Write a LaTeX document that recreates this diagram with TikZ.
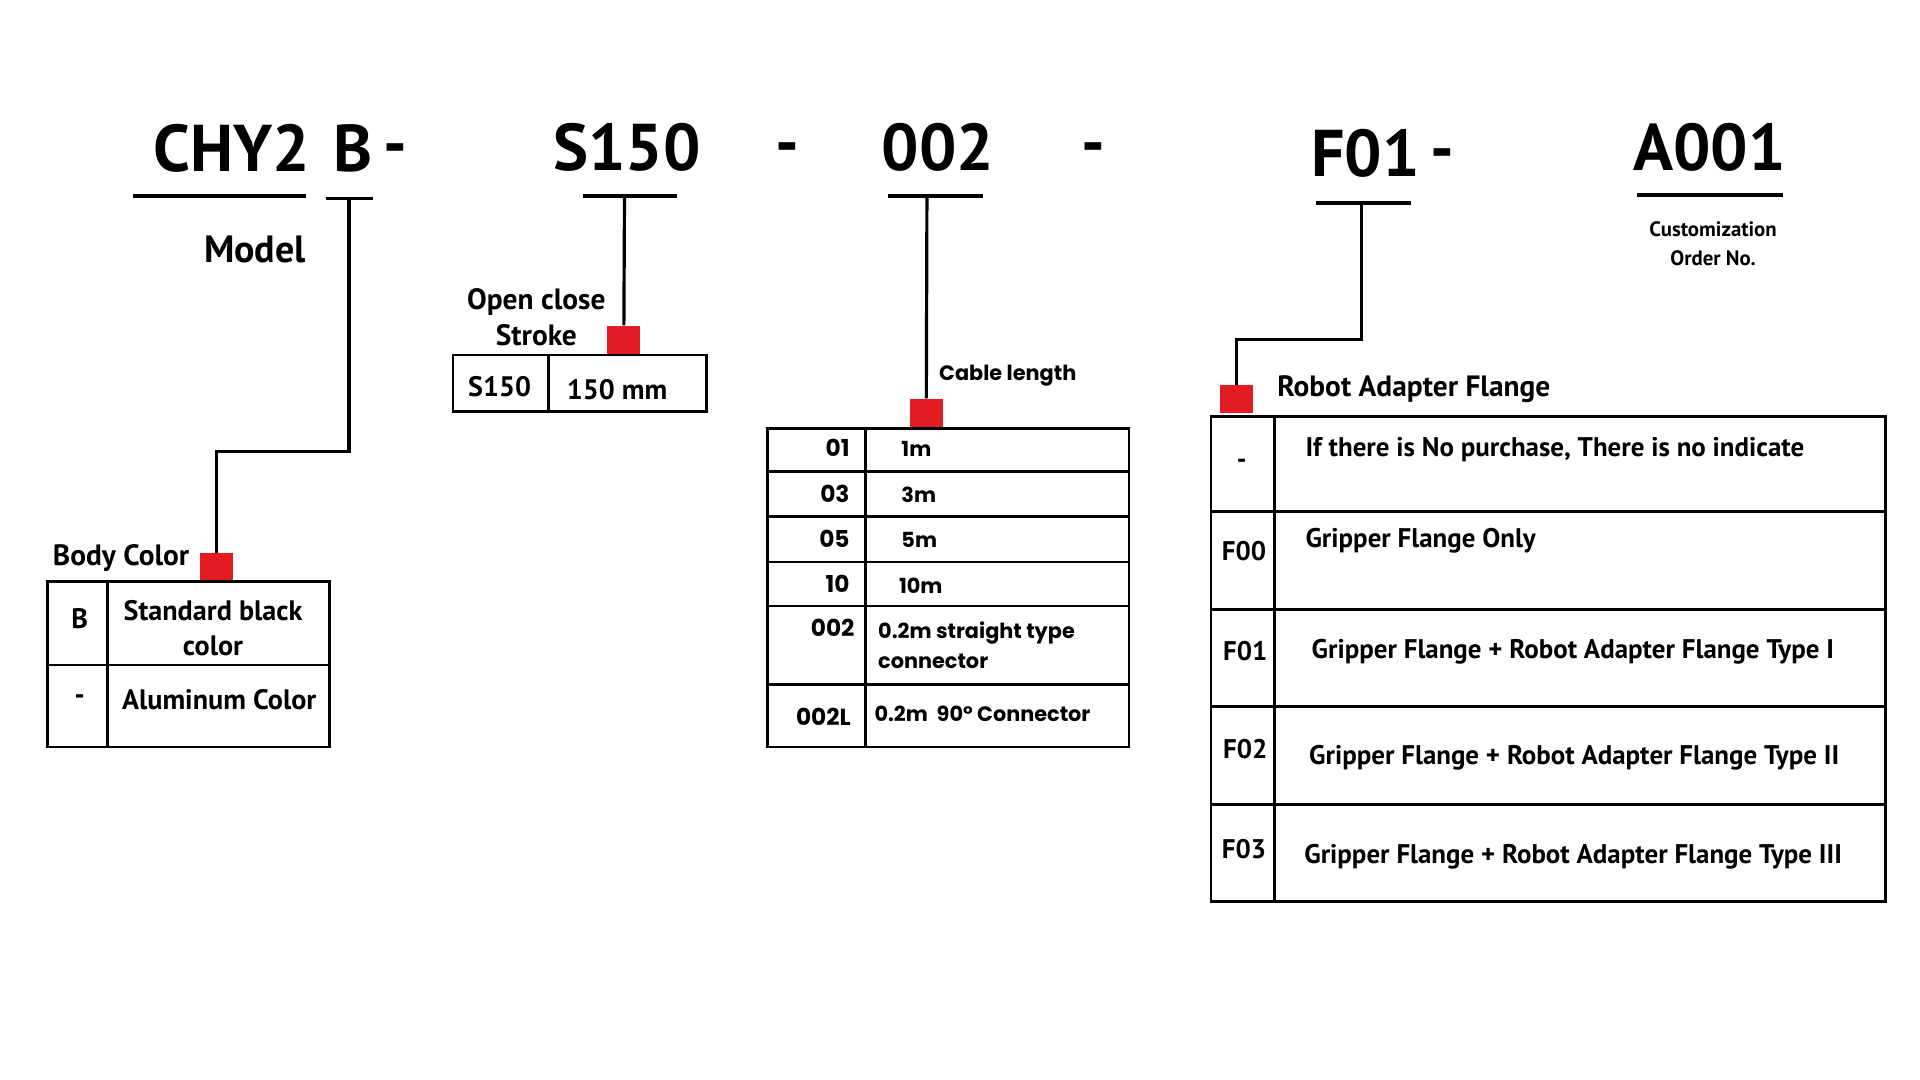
\documentclass[tikz,border=0pt]{standalone}
\usepackage{fontspec}
\setmainfont{PT Sans}
\newfontfamily\geofont{Poppins}
\usetikzlibrary{positioning}
\definecolor{markred}{HTML}{E31B23}

\begin{document}
\begin{tikzpicture}[
        x=1pt, y=-1pt,
        code/.style={font=\fontsize{54}{60}\selectfont\bfseries, inner sep=0pt},
        caption/.style={font=\fontsize{24}{29}\selectfont\bfseries, align=center, inner sep=0pt},
        cell/.style={font=\fontsize{23}{29}\selectfont\bfseries, align=center, inner sep=0pt},
        flangecell/.style={font=\fontsize{22}{28}\selectfont\bfseries, align=center, inner sep=0pt},
        cablecell/.style={font=\geofont\fontsize{17}{25}\selectfont\bfseries, align=left, inner sep=0pt},
        cablecode/.style={font=\geofont\fontsize{19}{25}\selectfont\bfseries, inner sep=0pt},
        marker/.style={fill=markred, minimum width=27pt, minimum height=23pt, inner sep=0pt},
        bar/.style={line width=3pt},
        wire/.style={line width=2.6pt},
        grid/.style={line width=2.2pt}
    ]
    \useasboundingbox (0,0) rectangle (1568,882);

    % Order code
    \node[code] (model) at (189,121) {CHY2};
    \node[code] (color) at (288,121) {B};
    \node[code] (dash1) at (323,127) {-};
    \node[code] (stroke) at (512,120) {S150};
    \node[code] (dash2) at (643,126) {-};
    \node[code] (cable) at (766,120) {002};
    \node[code] (dash3) at (893,126) {-};
    \node[code] (flange) at (1115,125) {F01};
    \node[code] (dash4) at (1178,131) {-};
    \node[code] (order) at (1396,120) {A001};

    % Underlines
    \draw[bar] (109,160) -- (250,160);
    \draw[bar] (266,162) -- (305,162);
    \draw[bar] (476,160) -- (553,160);
    \draw[bar] (725,160) -- (803,160);
    \draw[bar] (1075,166) -- (1152,166);
    \draw[bar] (1337,159) -- (1456,159);
    \coordinate (colorbar) at (285,162);
    \coordinate (strokebar) at (510,160);
    \coordinate (cablebar) at (757,160);
    \coordinate (flangebar) at (1112,166);

    % Model
    \node[font=\fontsize{31}{36}\selectfont\bfseries, anchor=east, inner sep=0pt] (modeltxt) at (250,204) {Model};

    % Body color
    \node[marker] (colormark) at (176.5,463.5) {};
    \coordinate (colorbend) at (285,369);
    \draw[wire] (colorbar) -- (colorbend) -| (colormark.north);
    \node[caption, anchor=west] (colortxt) at (43,456) {Body Color};
    \draw[grid] (39,475) rectangle (269,610);
    \draw[grid] (88,475) -- (88,610);
    \draw[grid] (39,543) -- (269,543);
    \node[cell] (colorB) at (65,505) {B};
    \node[cell] (colorBtxt) at (174,513) {Standard black\\color};
    \node[cell] (colorA) at (65,571) {-};
    \node[cell] (colorAtxt) at (179,571) {Aluminum Color};

    % Stroke
    \node[marker] (strokemark) at (509.5,277.5) {};
    \draw[wire] (strokebar) -- (strokemark.north);
    \node[caption] (stroketxt) at (438,259) {Open close\\Stroke};
    \draw[grid] (370,290) rectangle (577,336);
    \draw[grid] (448,290) -- (448,336);
    \node[cell] (strokeS) at (408,316) {S150};
    \node[cell] (strokeStxt) at (504,318) {150 mm};

    % Cable length
    \node[marker] (cablemark) at (756.5,337) {};
    \draw[wire] (cablebar) -- (cablemark.north);
    \node[cablecell] (cabletxt) at (823,307) {Cable length};
    \draw[grid] (627,350) rectangle (922,610);
    \draw[grid] (707,350) -- (707,610);
    \foreach \y in {385,422,459,495,559}
        \draw[grid] (627,\y) -- (922,\y);
    \foreach \y/\c/\l/\x in {366/01/1m/736, 403/03/3m/736, 440/05/5m/736, 477/10/10m/734}{
        \node[cablecode, anchor=east] (cable\c) at (694,\y) {\c};
        \node[cablecell, anchor=west] (cable\c txt) at (\x,\y+1) {\l};
    }
    \node[cablecode, anchor=east] (cable002) at (698,513) {002};
    \node[cablecell, anchor=west] (cable002txt) at (717,527) {0.2m straight type\\connector};
    \node[cablecode, anchor=east] (cable002L) at (695,585) {002L};
    \node[cablecell, anchor=west] (cable002Ltxt) at (714,583) {0.2m\ \ 90° Connector};

    % Robot adapter flange
    \node[marker] (flangemark) at (1009.5,326) {};
    \coordinate (flangebend) at (1112,277);
    \draw[wire] (flangebar) -- (flangebend) -| (flangemark.north);
    \node[caption, anchor=west] (flangetxt) at (1043,318) {Robot Adapter Flange};
    \draw[grid] (989,340) rectangle (1540,736);
    \draw[grid] (1041,340) -- (1041,736);
    \foreach \y in {418,498,577,657}
        \draw[grid] (989,\y) -- (1540,\y);
    \node[flangecell] (flangeN) at (1014,379) {-};
    \node[flangecell, anchor=west] (flangeNtxt) at (1066,367) {If there is No purchase, There is no indicate};
    \node[flangecell] (flange0) at (1016,450) {F00};
    \node[flangecell, anchor=west] (flange0txt) at (1066,442) {Gripper Flange Only};
    \node[flangecell] (flange1) at (1017,532) {F01};
    \node[flangecell, anchor=west] (flange1txt) at (1071,532) {Gripper Flange + Robot Adapter Flange Type I};
    \node[flangecell] (flange2) at (1017,612) {F02};
    \node[flangecell, anchor=west] (flange2txt) at (1069,619) {Gripper Flange + Robot Adapter Flange Type II};
    \node[flangecell] (flange3) at (1016,693) {F03};
    \node[flangecell, anchor=west] (flange3txt) at (1065,700) {Gripper Flange + Robot Adapter Flange Type III};

    % Customization
    \node[font=\fontsize{17}{23}\selectfont\bfseries, align=center, inner sep=0pt] (ordertxt) at (1399,199) {Customization\\Order No.};

\end{tikzpicture}
\end{document}
